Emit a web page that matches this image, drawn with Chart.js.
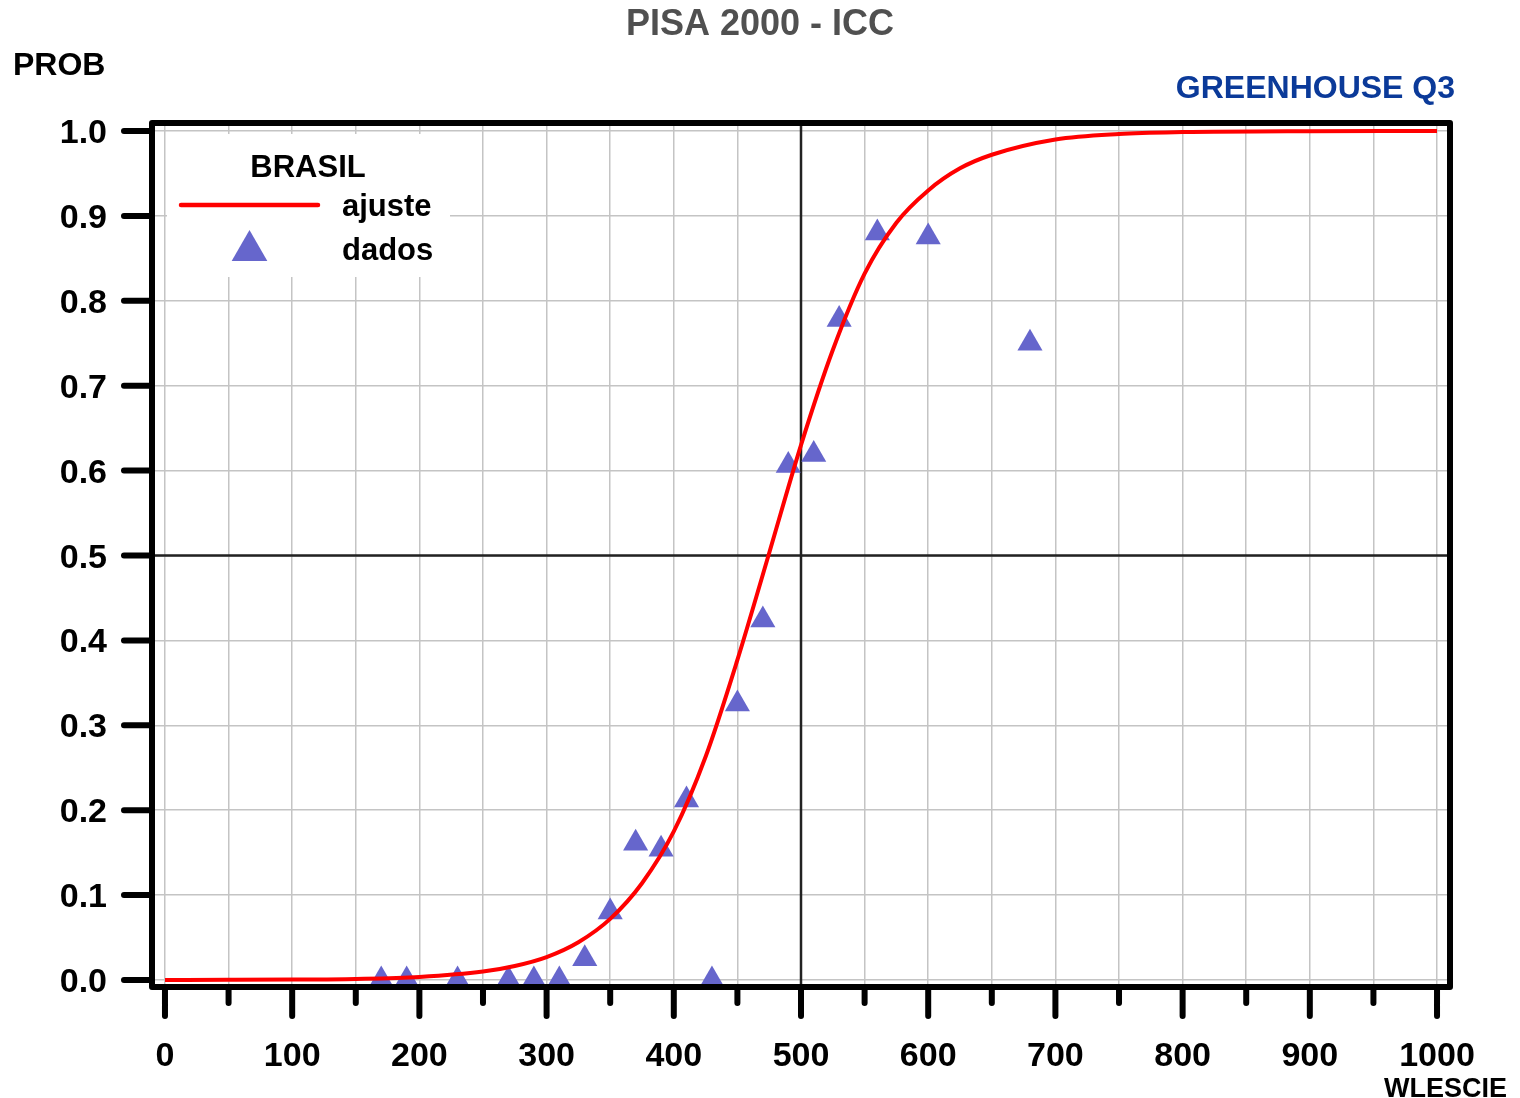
<!DOCTYPE html>
<html>
<head>
<meta charset="utf-8">
<script src="https://cdn.jsdelivr.net/npm/chart.js@4.4.1/dist/chart.umd.min.js"></script>
<style>
  html, body { margin: 0; padding: 0; background: #ffffff; }
  canvas { display: block; }
</style>
</head>
<body>
<canvas id="icc" width="1520" height="1098"></canvas>
<script>
// Fitted item characteristic curve (ajuste): probability by score
const fitScore = [0, 50, 100, 150, 200, 250, 275, 300, 325, 350, 375, 400, 425, 450, 475, 500, 525, 550, 575, 600, 625, 650, 700, 750, 800, 900, 1000];
const fitProb  = [0.0001, 0.0002, 0.0005, 0.0013, 0.0036, 0.0099, 0.0165, 0.027, 0.0445, 0.072, 0.114, 0.175, 0.263, 0.377, 0.503, 0.630, 0.742, 0.832, 0.892, 0.930, 0.956, 0.972, 0.990, 0.9965, 0.9987, 0.9998, 1.000];

// Observed proportions correct (dados)
const obsScore = [170, 190, 230, 270, 290, 310, 330, 350, 370, 390, 410, 430, 450, 470, 490, 510, 530, 560, 600, 680];
const obsProb  = [0, 0, 0, 0, 0, 0, 0.025, 0.080, 0.161, 0.154, 0.212, 0, 0.325, 0.424, 0.606, 0.619, 0.778, 0.880, 0.875, 0.750];

// Axis ticks and labels
const xTickValues  = [0, 50, 100, 150, 200, 250, 300, 350, 400, 450, 500, 550, 600, 650, 700, 750, 800, 850, 900, 950, 1000];
const xLabelValues = [0, 100, 200, 300, 400, 500, 600, 700, 800, 900, 1000];
const xTickLabels  = ['0', '100', '200', '300', '400', '500', '600', '700', '800', '900', '1000'];
const yTickValues  = [0, 0.1, 0.2, 0.3, 0.4, 0.5, 0.6, 0.7, 0.8, 0.9, 1.0];
const yTickLabels  = ['0.0', '0.1', '0.2', '0.3', '0.4', '0.5', '0.6', '0.7', '0.8', '0.9', '1.0'];

// Reference cross lines
const crossScore = 500;
const crossProb = 0.5;

const FONT = '"Liberation Sans", Arial, Helvetica, sans-serif';

const decor = {
  id: 'decor',
  beforeDatasetsDraw(chart) {
    const c = chart.ctx;
    const xs = chart.scales.x, ys = chart.scales.y;
    const a = chart.chartArea;
    c.save();
    // dark reference lines
    c.strokeStyle = '#222222';
    c.lineWidth = 2.5;
    const cx = xs.getPixelForValue(crossScore);
    const cy = ys.getPixelForValue(crossProb);
    c.beginPath();
    c.moveTo(cx, a.top); c.lineTo(cx, a.bottom);
    c.moveTo(a.left, cy); c.lineTo(a.right, cy);
    c.stroke();

    // legend box
    c.fillStyle = '#ffffff';
    c.fillRect(167, 134, 283, 143);
    c.fillStyle = '#000000';
    c.font = 'bold 31px ' + FONT;
    c.textBaseline = 'alphabetic';
    c.textAlign = 'center';
    c.fillText('BRASIL', 308, 177);
    c.textAlign = 'left';
    c.fillText('ajuste', 342, 216);
    c.fillText('dados', 342, 260);
    c.strokeStyle = '#ff0000';
    c.lineWidth = 4.5;
    c.lineCap = 'round';
    c.beginPath();
    c.moveTo(181, 205); c.lineTo(318, 205);
    c.stroke();
    const r = 20.6, tx = 249.5, ty = 250.6;
    c.fillStyle = '#6666cc';
    c.beginPath();
    c.moveTo(tx, ty - r);
    c.lineTo(tx - r * Math.sin(Math.PI / 3), ty + r / 2);
    c.lineTo(tx + r * Math.sin(Math.PI / 3), ty + r / 2);
    c.closePath();
    c.fill();
    c.restore();
  },
  afterDraw(chart) {
    const c = chart.ctx;
    const xs = chart.scales.x, ys = chart.scales.y;
    const a = chart.chartArea;
    c.save();
    // tick marks
    c.strokeStyle = '#000000';
    c.lineWidth = 6;
    c.lineCap = 'round';
    c.beginPath();
    xTickValues.forEach(v => {
      const px = xs.getPixelForValue(v);
      const major = v % 100 === 0;
      c.moveTo(px, a.bottom + 2);
      c.lineTo(px, a.bottom + (major ? 29 : 16));
    });
    yTickValues.forEach(v => {
      const py = ys.getPixelForValue(v);
      c.moveTo(a.left - 2, py);
      c.lineTo(124, py);
    });
    c.stroke();

    // frame
    c.lineJoin = 'round';
    c.lineCap = 'butt';
    c.strokeRect(a.left, a.top, a.right - a.left, a.bottom - a.top);

    // tick labels
    c.fillStyle = '#000000';
    c.font = 'bold 34px ' + FONT;
    c.textBaseline = 'alphabetic';
    c.textAlign = 'center';
    xLabelValues.forEach((v, i) => {
      c.fillText(xTickLabels[i], xs.getPixelForValue(v), 1066);
    });
    c.textAlign = 'right';
    yTickValues.forEach((v, i) => {
      c.fillText(yTickLabels[i], 107, ys.getPixelForValue(v) + 12);
    });

    // titles
    c.textAlign = 'center';
    c.fillStyle = '#505050';
    c.font = 'bold 36px ' + FONT;
    c.fillText('PISA 2000 - ICC', 760, 35);
    c.textAlign = 'left';
    c.fillStyle = '#000000';
    c.font = 'bold 32px ' + FONT;
    c.fillText('PROB', 13, 75);
    c.textAlign = 'right';
    c.fillStyle = '#0b3a99';
    c.fillText('GREENHOUSE Q3', 1455, 98);
    c.fillStyle = '#000000';
    c.font = 'bold 27px ' + FONT;
    c.fillText('WLESCIE', 1507, 1097);
    c.restore();
  }
};

new Chart(document.getElementById('icc'), {
  type: 'scatter',
  data: {
    datasets: [
      {
        label: 'ajuste',
        data: fitScore.map((x, i) => ({ x: x, y: fitProb[i] })),
        showLine: true,
        borderColor: '#ff0000',
        borderWidth: 4,
        pointRadius: 0,
        pointHoverRadius: 0,
        cubicInterpolationMode: 'monotone',
        fill: false,
        clip: false
      },
      {
        label: 'dados',
        data: obsScore.map((x, i) => ({ x: x, y: obsProb[i] })),
        showLine: false,
        pointStyle: 'triangle',
        pointRadius: 14.5,
        pointHoverRadius: 14.5,
        backgroundColor: '#6666cc',
        borderColor: '#6666cc',
        borderWidth: 0,
        clip: false
      }
    ]
  },
  options: {
    responsive: false,
    animation: false,
    devicePixelRatio: 1,
    events: [],
    layout: { padding: { left: 152, right: 70, top: 123, bottom: 111 } },
    plugins: {
      legend: { display: false },
      tooltip: { enabled: false },
      title: { display: false }
    },
    scales: {
      x: {
        type: 'linear',
        min: -10.2,
        max: 1010.2,
        afterBuildTicks: s => { s.ticks = xTickValues.map(v => ({ value: v })); },
        ticks: { display: false },
        grid: { color: '#c4c4c4', lineWidth: 1.5, drawTicks: false },
        border: { display: false }
      },
      y: {
        type: 'linear',
        min: -0.00824,
        max: 1.00942,
        afterBuildTicks: s => { s.ticks = yTickValues.map(v => ({ value: v })); },
        ticks: { display: false },
        grid: { color: '#c4c4c4', lineWidth: 1.5, drawTicks: false },
        border: { display: false }
      }
    }
  },
  plugins: [decor]
});
</script>
</body>
</html>
